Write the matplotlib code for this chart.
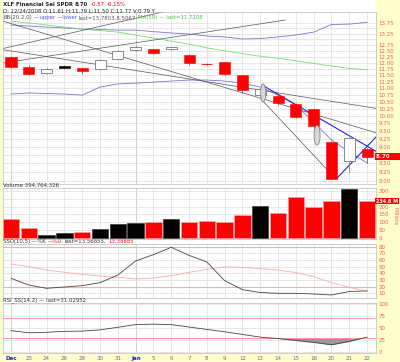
import numpy as np
import matplotlib
matplotlib.use('Agg')
import matplotlib.pyplot as plt
from matplotlib.ticker import NullLocator, NullFormatter
import matplotlib.transforms as mtrans

# ---- data ----
days = ['Dec', '23', '24', '26', '29', '30', '31', 'Jan', '5', '6', '7', '8',
        '9', '12', '13', '14', '15', '16', '20', '21', '22']
opens = [12.24, 11.84, 11.57, 11.88, 11.78, 11.73, 12.16, 12.54, 12.56, 12.56, 12.32,
         11.93, 12.02, 11.50, 10.75, 10.72, 10.42, 10.23, 9.15, 8.56, 8.92]
highs = [12.30, 11.90, 11.80, 11.90, 11.80, 12.14, 12.52, 12.75, 12.60, 12.68, 12.35,
         11.98, 12.05, 11.52, 11.00, 10.75, 10.45, 10.26, 9.18, 9.30, 8.95]
lows = [11.78, 11.50, 11.55, 11.75, 11.55, 11.70, 12.12, 12.50, 12.38, 12.54, 11.92,
        11.90, 11.50, 10.81, 10.72, 10.40, 9.93, 9.56, 8.05, 8.23, 8.50]
closes = [11.82, 11.53, 11.76, 11.78, 11.67, 12.11, 12.49, 12.68, 12.41, 12.65, 11.97,
          11.96, 11.54, 10.93, 10.98, 10.44, 9.97, 9.67, 8.07, 9.27, 8.70]
bb_upper = [13.66, 13.61, 13.56, 13.52, 13.47, 13.45, 13.42, 13.42, 13.35, 13.29, 13.24,
            13.15, 13.11, 13.02, 13.04, 13.11, 13.20, 13.33, 13.68, 13.70, 13.78]
bb_lower = [10.78, 10.82, 10.80, 10.78, 10.74, 11.04, 11.16, 11.19, 11.23, 11.27, 11.31,
            11.31, 11.27, 11.19, 11.04, 10.74, 10.38, 9.79, 9.21, 8.84, 8.51]
ma50 = [13.84, 13.75, 13.66, 13.56, 13.47, 13.40, 13.33, 13.19, 13.06, 12.92, 12.79,
        12.63, 12.50, 12.38, 12.27, 12.19, 12.08, 11.97, 11.87, 11.77, 11.72]
volume = [119, 62, 19, 30, 40, 57, 89, 94, 104, 123, 104, 108, 104, 145, 202, 161,
          259, 197, 238, 310, 235]
sso_k = [32.5, 22.5, 17.5, 19.5, 21.5, 26, 37.5, 58.5, 68, 79, 67, 57, 29, 15.5,
         11.3, 10, 10, 9, 7.5, 12.8, 13.6]
sso_d = [54, 50, 45, 41.5, 38.5, 36, 34, 31.5, 33, 36.5, 41.5, 46, 49.5, 49, 47, 45,
         41, 35, 26, 19, 13.4]
rsi = [44.5, 40, 41, 43, 43.5, 46, 51.5, 57, 58, 57, 52, 47, 42, 36.5, 31, 28, 24,
       20, 15, 22, 31]

# hand-drawn annotations (day index, price)
grey_lines = [((-0.45, 11.99), (15.39, 13.89)),
              ((-0.45, 12.60), (10.62, 14.70)),
              ((-0.45, 12.55), (20.56, 10.26)),
              ((-0.45, 13.84), (20.56, 9.43)),
              ((14.1, 10.56), (18.2, 8.08))]
blue_lines = [((14.1, 11.12), (20.56, 8.84)),
              ((18.31, 8.08), (20.56, 9.34))]
ovals = [(14.16, 10.82, 0.14, 0.031), (17.19, 9.36, 0.17, 0.034)]

price_ticks = [13.75, 13.5, 13.25, 13.0, 12.75, 12.5, 12.25, 12.0, 11.75, 11.5, 11.25,
               11.0, 10.75, 10.5, 10.25, 10.0, 9.75, 9.5, 9.25, 9.0, 8.75, 8.5, 8.25, 8.0]
price_labels = ['13.75', '', '13.25', '', '12.75', '12.50', '12.25', '12.00', '11.75',
                '11.50', '11.25', '11.00', '10.75', '10.50', '10.25', '10.00', '9.75',
                '9.50', '9.25', '9.00', '', '8.50', '8.25', '8.00']
vol_ticks = [0, 50, 100, 150, 200, 250, 300]
vol_labels = ['0', '50', '100', '150', '200', '', '300']

RED = '#ff0000'
LBL = '#ff5555'
GRID = '#dddddd'
x = np.arange(len(days))

fig = plt.figure(figsize=(4.0, 3.62), dpi=100)
fig.patch.set_facecolor('#ffffcc')
fig.patches.append(plt.Rectangle((3 / 400, 9 / 362), 373 / 400, 353 / 362,
                                 transform=fig.transFigure, facecolor='white',
                                 edgecolor='none', zorder=-10))


def panel(top, bottom):
    ax = fig.add_axes([3 / 400, 1 - bottom / 362, 373 / 400, (bottom - top) / 362])
    ax.set_xlim(-0.45, 20.5)
    ax.set_xticks(x)
    ax.tick_params(axis='x', length=0, labelbottom=False)
    ax.yaxis.tick_right()
    ax.tick_params(axis='y', length=0, labelsize=4, labelcolor=LBL, pad=2)
    for s in ax.spines.values():
        s.set_color('#bbbbbb')
        s.set_linewidth(0.5)
    ax.grid(True, color=GRID, lw=0.5)
    for xi in (0, 7):
        ax.axvline(xi, color='#aaaaaa', lw=0.6, zorder=0.5)
    ax.set_axisbelow(True)
    return ax


# ---- price panel ----
ax = panel(12, 184)
ax.set_yscale('log')
ax.set_ylim(7.92, 14.28)
ax.set_yticks(price_ticks)
ax.set_yticklabels(price_labels)
ax.yaxis.set_minor_locator(NullLocator())
ax.yaxis.set_minor_formatter(NullFormatter())

ax.plot(x, bb_upper, color='#7777cc', lw=0.6)
ax.plot(x, bb_lower, color='#7777cc', lw=0.6)
ax.plot(x, ma50, color='#77dd77', lw=0.6)
for (x0, y0), (x1, y1) in grey_lines:
    ax.plot([x0, x1], [y0, y1], color='#555555', lw=0.5)
for (x0, y0), (x1, y1) in blue_lines:
    ax.plot([x0, x1], [y0, y1], color='#2222ee', lw=0.8)

prev = [opens[0] + 1] + closes[:-1]
for i in range(len(days)):
    col = RED if closes[i] < prev[i] else 'black'
    ax.vlines(x[i], lows[i], highs[i], color=col if col == RED else '#777777', lw=0.5)
    lo, hi = min(opens[i], closes[i]), max(opens[i], closes[i])
    if closes[i] < opens[i]:
        ax.bar(x[i], hi - lo, bottom=lo, width=0.62, color=col, edgecolor=col, lw=0.4, zorder=3)
    else:
        ax.bar(x[i], hi - lo, bottom=lo, width=0.62, facecolor='white',
               edgecolor=col if col == RED else '#777777', lw=0.6, zorder=3)

t = np.linspace(0, 2 * np.pi, 80)
for cx, cy, a, b in ovals:
    ax.fill(cx + a * np.cos(t), np.exp(np.log(cy) + b * np.sin(t)),
            facecolor='#d8d8d8', edgecolor='#777777', lw=0.5, zorder=4)

ax.text(1.0, closes[-1], '8.70     ', transform=mtrans.blended_transform_factory(ax.transAxes, ax.transData),
        color='white', fontsize=4, fontweight='bold', va='center', ha='left',
        bbox=dict(facecolor=RED, edgecolor='none', pad=0.8), clip_on=False)


def chain(parts, px, py, size=3.9):
    # several coloured pieces of text written one after another
    last = fig.text(px / 400, 1 - py / 362, parts[0][0], color=parts[0][1],
                    fontsize=size, fontweight=parts[0][2], va='center', ha='left', zorder=10)
    for s, c, w in parts[1:]:
        last = ax.annotate(s, xy=(1, 0.5), xycoords=last, xytext=(1.5, 0),
                           textcoords='offset points', color=c, fontsize=size,
                           fontweight=w, va='center', ha='left', annotation_clip=False)


chain([('XLF Financial Sel SPDR', '#222222', 'bold'), ('8.70', '#222222', 'bold'),
       ('-0.57', RED, 'normal'), ('-6.15%', RED, 'normal')], 3, 4)
chain([('D: 12/24/2008 O:11.61 H:11.79 L:11.50 C:11.77 V:0.79 Y', '#222222', 'normal')], 3, 11)
chain([('BB(20,2.0)', '#555555', 'normal'), ('\u2014upper \u2014lower', '#5555cc', 'normal'),
       ('last=13.7803,8.5067', '#555555', 'normal'),
       ('MA(50) \u2014 last=11.7208', '#55bb55', 'normal')], 3, 18)

# ---- volume panel ----
av = panel(188, 239)
av.set_ylim(-6.4, 318.5)
av.set_yticks(vol_ticks)
av.set_yticklabels(vol_labels)
vcols = [RED if closes[i] < prev[i] else 'black' for i in range(len(days))]
ecols = ['#ff9999' if c == RED else '#444444' for c in vcols]
av.bar(x, volume, width=0.92, color=vcols, edgecolor=ecols, lw=0.6, zorder=3)
av.text(1.0, volume[-1], '234.8 M', transform=mtrans.blended_transform_factory(av.transAxes, av.transData),
        color='white', fontsize=3.5, fontweight='bold', va='center', ha='left',
        bbox=dict(facecolor=RED, edgecolor='none', pad=0.5), clip_on=False, zorder=10)
fig.text(395 / 400, 1 - 216 / 362, 'Millions', rotation=270, color=LBL, fontsize=3.5,
         ha='center', va='center')
fig.text(3 / 400, 1 - 185.5 / 362, 'Volume 394,764,326', color='#333333', fontsize=3.9,
         va='center', ha='left')

# ---- SSO panel ----
ss = panel(244, 298)
ss.set_ylim(3, 84)
ss.set_yticks([10, 20, 30, 40, 50, 60, 70, 80])
ss.axhline(80, color='#ffaaaa', lw=0.7)
ss.axhline(20, color='#ffaaaa', lw=0.7)
ss.plot(x, sso_d, color='#ffaaaa', lw=0.6)
ss.plot(x, sso_k, color='#444444', lw=0.6)
chain([('SSO(10,5) \u2014%K', '#333333', 'normal'), ('\u2014%D', RED, 'normal'),
       ('last=13.56855,', '#333333', 'normal'), ('13.38885', RED, 'normal')], 3, 241.5)

# ---- RSI panel ----
rs = panel(303, 353)
rs.set_ylim(-2.1, 102)
rs.set_yticks([0, 25, 50, 75, 100])
rs.axhline(70, color='#ff9999', lw=0.7)
rs.axhline(30, color='#ff9999', lw=0.7)
rs.plot(x, rsi, color='#444444', lw=0.6)
rs.fill_between(x, rsi, 30, where=np.array(rsi) <= 30, interpolate=True,
                color='#999999', lw=0)
fig.text(3 / 400, 1 - 300 / 362, 'RSI_SS(14,2) \u2014 last=31.02952', color='#333333',
         fontsize=3.9, va='center', ha='left')

rs.tick_params(axis='x', labelbottom=True, labelsize=4, pad=2)
rs.set_xticklabels(days)
for lab in rs.get_xticklabels():
    if lab.get_text() in ('Dec', 'Jan'):
        lab.set_color('#2222cc')
        lab.set_fontweight('bold')
    else:
        lab.set_color('#6666aa')

fig.savefig('out.png', dpi=100, facecolor=fig.get_facecolor())
